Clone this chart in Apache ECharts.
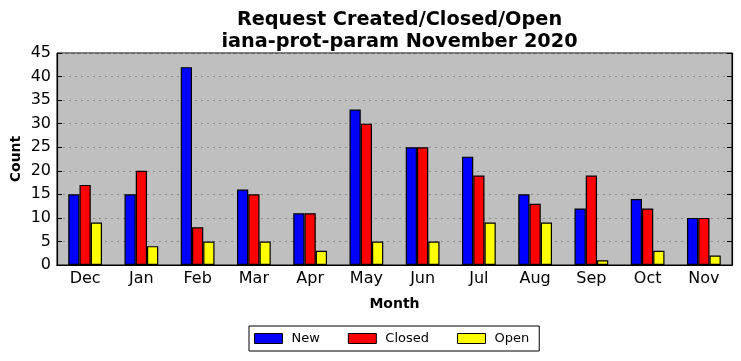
<!DOCTYPE html>
<html>
<head>
<meta charset="utf-8">
<script src="https://cdn.jsdelivr.net/npm/echarts@6/dist/echarts.min.js"></script>
<style>html,body{margin:0;padding:0;background:#fff}#c{width:741px;height:361px}</style>
</head>
<body>
<div id="c"></div>
<script>
const months = ['Dec','Jan','Feb','Mar','Apr','May','Jun','Jul','Aug','Sep','Oct','Nov'];
const newVals = [15,15,42,16,11,33,25,23,15,12,14,10];
const closedVals = [17,20,8,15,11,30,25,19,13,19,12,10];
const openVals = [9,4,5,5,3,5,5,9,9,1,3,2];
const titleLines = ['Request Created/Closed/Open','iana-prot-param November 2020'];

const FONT = 'DejaVu Sans';
const chart = echarts.init(document.getElementById('c'), null, {renderer:'canvas'});
const barStyle = c => ({color:c, borderColor:'#000', borderWidth:1.2});
chart.setOption({
  animation:false,
  textStyle:{fontFamily:FONT},
  title:{
    text: titleLines.join('\n'),
    left: 394.5, textAlign:'center', top: 4,
    textStyle:{fontFamily:FONT, fontWeight:'bold', fontSize:19.3, lineHeight:22, color:'#000'}
  },
  legend:{
    data:['New','Closed','Open'],
    left:249, top:326, icon:'rect',
    padding:[6,10,6,5],
    itemWidth:28, itemHeight:10, itemGap:28,
    borderColor:'#000', borderWidth:1,
    textStyle:{fontFamily:FONT, fontSize:13, color:'#000', padding:[0,0,0,4]},
    itemStyle:{borderColor:'#000', borderWidth:1}
  },
  grid:{left:57, right:9, top:53, bottom:96, containLabel:false, outerBoundsMode:'none', show:true, backgroundColor:'#bfbfbf', borderColor:'#000', borderWidth:1},
  xAxis:[{
    type:'category', data:months, position:'bottom',
    name:'Month', nameLocation:'middle', nameGap:32,
    nameTextStyle:{fontFamily:FONT, fontWeight:'bold', fontSize:14, color:'#000'},
    axisLine:{lineStyle:{color:'#000', width:1.2}},
    axisTick:{inside:true, alignWithLabel:true, length:5, lineStyle:{color:'#000'}},
    axisLabel:{fontFamily:FONT, fontSize:16, color:'#000', margin:6}
  },{
    type:'category', data:months, position:'top',
    axisLine:{lineStyle:{color:'#000', width:1.2}},
    axisTick:{inside:true, alignWithLabel:true, length:5, lineStyle:{color:'#000'}},
    axisLabel:{show:false}
  }],
  yAxis:[{
    type:'value', min:0, max:45, interval:5, position:'left',
    name:'Count', nameLocation:'middle', nameGap:34, nameMoveOverlap:false,
    nameTextStyle:{fontFamily:FONT, fontWeight:'bold', fontSize:14, color:'#000'},
    axisLine:{show:true, lineStyle:{color:'#000', width:1.2}},
    axisTick:{show:true, inside:true, length:5, lineStyle:{color:'#000'}},
    axisLabel:{fontFamily:FONT, fontSize:16, color:'#000', margin:6},
    splitLine:{show:true, lineStyle:{color:'#8a8a8a', type:[2,4], width:1}}
  },{
    type:'value', min:0, max:45, interval:5, position:'right',
    axisLine:{show:true, lineStyle:{color:'#000', width:1.2}},
    axisTick:{show:true, inside:true, length:5, lineStyle:{color:'#000'}},
    axisLabel:{show:false}, splitLine:{show:false}
  }],
  series:[
    {name:'New', type:'bar', data:newVals, barWidth:'20%', barGap:'0%', itemStyle:barStyle('#0000ff')},
    {name:'Closed', type:'bar', data:closedVals, barWidth:'20%', barGap:'0%', itemStyle:barStyle('#ff0000')},
    {name:'Open', type:'bar', data:openVals, barWidth:'20%', barGap:'0%', itemStyle:barStyle('#ffff00')}
  ]
});
</script>
</body>
</html>
